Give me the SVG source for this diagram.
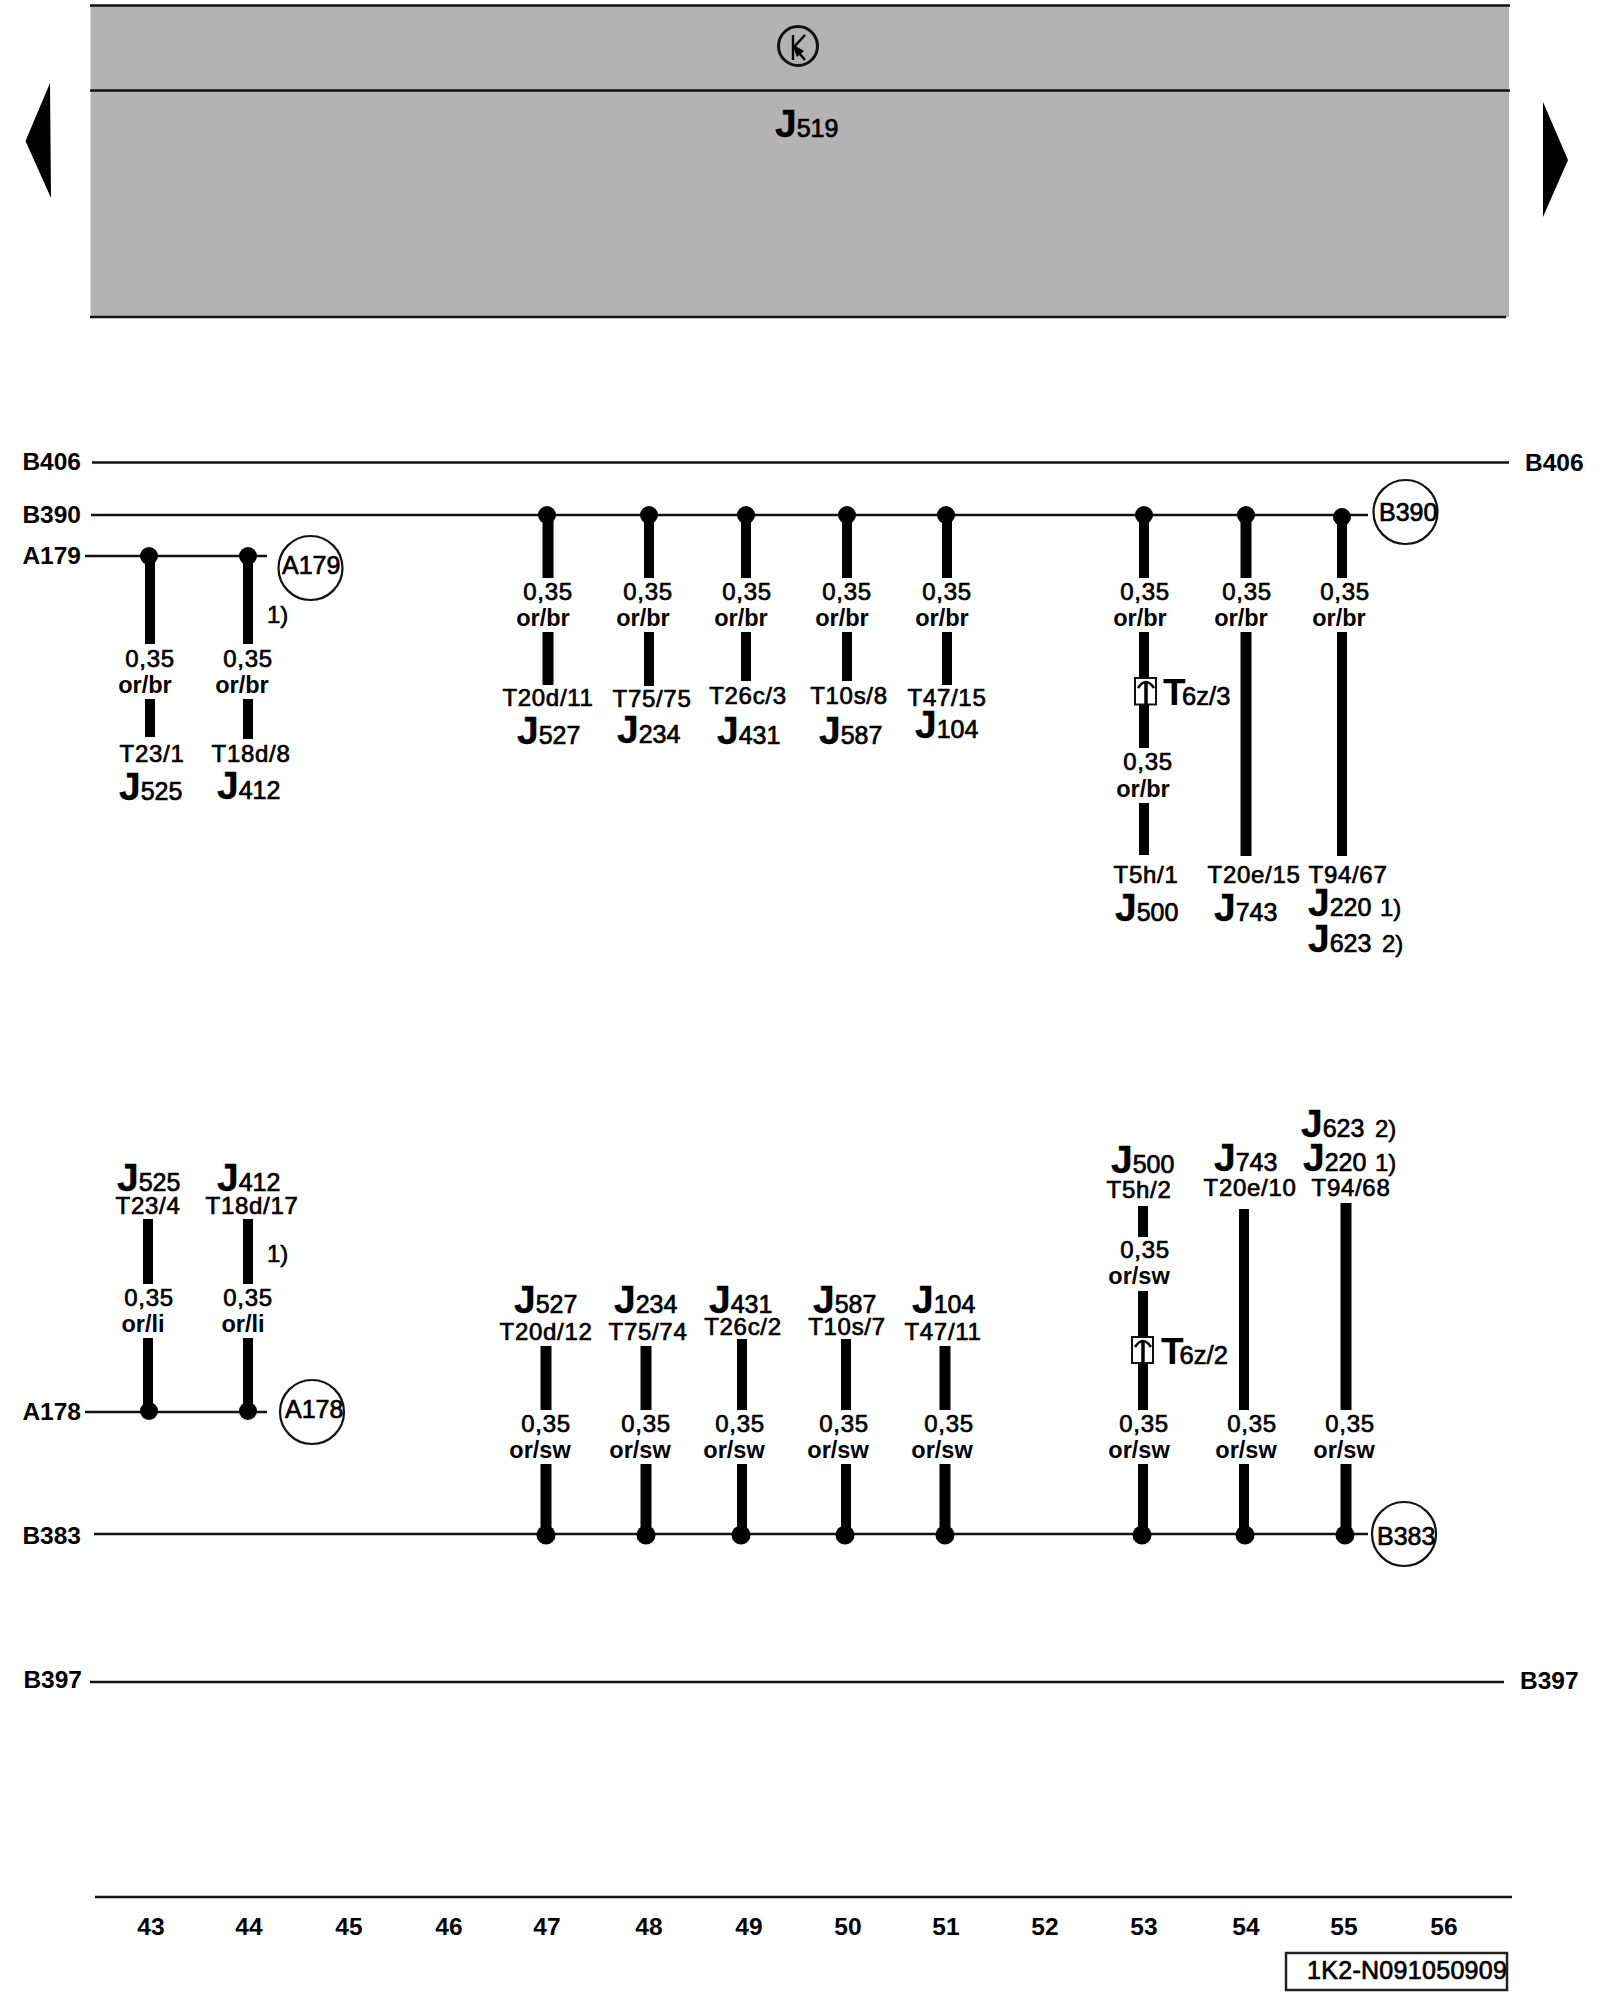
<svg xmlns="http://www.w3.org/2000/svg" width="1600" height="2000" viewBox="0 0 1600 2000">
<style>
text{font-family:"Liberation Sans",Arial,sans-serif;fill:#000}
.l{font-size:24px;letter-spacing:.7px;stroke:#000;stroke-width:.7px;text-anchor:middle}
.o{font-size:23.500px;font-weight:bold;text-anchor:middle}
.n{font-size:24.500px;font-weight:bold}
.e{text-anchor:end}
.m{text-anchor:middle}
.c{font-size:25px;stroke:#000;stroke-width:.7px}
.f{font-size:24px;stroke:#000;stroke-width:.6px}
.j{font-size:25px;stroke:#000;stroke-width:.7px}
.j tspan{font-size:39px;font-weight:bold;stroke-width:.3px}
.t{font-size:25.500px;stroke:#000;stroke-width:.7px}
.t tspan.b{font-size:37px;font-weight:bold;stroke:none}
.bus{stroke:#111;stroke-width:2.5;fill:none}
.w{stroke:#000;stroke-width:10;fill:none}
.w11{stroke:#000;stroke-width:11;fill:none}
.d{fill:#000}
.ring{fill:none;stroke:#111;stroke-width:2.2}
.box{fill:#fff;stroke:#111;stroke-width:2}
</style>
<defs>
<g id="arch"><path d="M-8 9Q0 -3 8 9" fill="none" stroke="#000" stroke-width="2.6"/><path d="M0 4V26" stroke="#000" stroke-width="3.500"/></g>
</defs>

<g id="control-unit-band">
<rect x="90.500" y="5" width="1418.500" height="312" fill="#b3b3b3"/>
<path class="bus" d="M90 5.500H1510M90 90.500H1510M90 317H1506"/>
</g>
<g id="terminal-symbol">
<circle cx="798" cy="46" r="19.500" fill="none" stroke="#111" stroke-width="3"/>
<path d="M793 35V60M805 35L794 47L805 60" fill="none" stroke="#000" stroke-width="2.400"/>
<path d="M792 44L804 51L797 57Z" fill="#000"/>
</g>
<g id="J519"><text class="j" x="775" y="137"><tspan>J</tspan>519</text></g>
<g id="page-prev"><polygon class="d" points="25.500,141 50,83 51,198"/></g>
<g id="page-next"><polygon class="d" points="1543,102 1568,160 1543,217"/></g>

<g id="connectors">
<path class="bus" d="M92 462.500H1509"/>
<path class="bus" d="M91 515H1368"/>
<path class="bus" d="M85 556H267"/>
<path class="bus" d="M85 1412H267"/>
<path class="bus" d="M94 1534H1368"/>
<path class="bus" d="M90 1682H1504"/>
<path class="bus" d="M95 1897H1512"/>
<path class="w" d="M150 556V644M150 699V737"/>
<path class="w" d="M248 556V644M248 699V739"/>
<path class="w11" d="M548 515V578M548 632V685"/>
<path class="w" d="M649 515V578M649 632V686"/>
<path class="w" d="M746 515V578M746 632V681"/>
<path class="w" d="M847 515V578M847 632V681"/>
<path class="w" d="M947 515V578M947 632V685"/>
<path class="w" d="M1144 515V578M1144 632V748M1144 803V855"/>
<path class="w11" d="M1246 515V578M1246 632V856"/>
<path class="w" d="M1342 515V578M1342 632V856"/>
<path class="w" d="M148 1219V1284M148 1338V1412"/>
<path class="w" d="M248 1219V1284M248 1338V1412"/>
<path class="w11" d="M546 1346V1410M546 1464V1535"/>
<path class="w11" d="M646 1346V1410M646 1464V1535"/>
<path class="w" d="M742 1339V1410M742 1464V1535"/>
<path class="w" d="M846 1339V1410M846 1464V1535"/>
<path class="w11" d="M945 1346V1410M945 1464V1535"/>
<path class="w" d="M1143 1206V1237M1143 1291V1410M1143 1464V1534"/>
<path class="w" d="M1244 1209V1410M1244 1464V1534"/>
<path class="w11" d="M1346 1203V1410M1346 1464V1534"/>
<g class="d">
<circle cx="149" cy="556" r="9"/><circle cx="248" cy="556" r="9"/>
<circle cx="547" cy="515" r="9"/><circle cx="649" cy="515" r="9"/><circle cx="746" cy="515" r="9"/><circle cx="847" cy="515" r="9"/><circle cx="946" cy="515" r="9"/><circle cx="1144" cy="515" r="9"/><circle cx="1246" cy="515" r="9"/><circle cx="1342" cy="517" r="9"/>
<circle cx="149" cy="1411" r="9"/><circle cx="248" cy="1411" r="9"/>
<circle cx="546" cy="1535" r="9.500"/><circle cx="646" cy="1535" r="9.500"/><circle cx="741" cy="1535" r="9.500"/><circle cx="845" cy="1535" r="9.500"/><circle cx="945" cy="1535" r="9.500"/><circle cx="1142" cy="1535" r="9.500"/><circle cx="1245" cy="1535" r="9.500"/><circle cx="1345" cy="1535" r="9.500"/>
</g>
</g>

<g id="bus-labels">
<text class="n e" x="81" y="469.500">B406</text>
<text class="n" x="1525" y="471">B406</text>
<text class="n e" x="81" y="522.500">B390</text>
<text class="n e" x="81" y="564">A179</text>
<text class="n e" x="81" y="1419.500">A178</text>
<text class="n e" x="81" y="1543.500">B383</text>
<text class="n e" x="82" y="1688">B397</text>
<text class="n" x="1520" y="1689">B397</text>
</g>
<g id="ref-A179"><circle class="ring" cx="310.500" cy="568" r="32"/><text class="c" x="282" y="574">A179</text></g>
<g id="ref-B390"><circle class="ring" cx="1405.500" cy="512" r="32"/><text class="c" x="1379" y="521">B390</text></g>
<g id="ref-A178"><circle class="ring" cx="312" cy="1412" r="32"/><text class="c" x="285" y="1418">A178</text></g>
<g id="ref-B383"><circle class="ring" cx="1404" cy="1534" r="32"/><text class="c" x="1377" y="1545">B383</text></g>

<g id="wire-labels-upper">
<text class="l" x="150" y="667">0,35</text><text class="o" x="145" y="692.500">or/br</text>
<text class="l" x="248" y="667">0,35</text><text class="o" x="242" y="692.500">or/br</text>
<text class="l" x="548" y="600">0,35</text><text class="o" x="543" y="626">or/br</text>
<text class="l" x="648" y="600">0,35</text><text class="o" x="643" y="626">or/br</text>
<text class="l" x="747" y="600">0,35</text><text class="o" x="741" y="626">or/br</text>
<text class="l" x="847" y="600">0,35</text><text class="o" x="842" y="626">or/br</text>
<text class="l" x="947" y="600">0,35</text><text class="o" x="942" y="626">or/br</text>
<text class="l" x="1145" y="600">0,35</text><text class="o" x="1140" y="626">or/br</text>
<text class="l" x="1148" y="770">0,35</text><text class="o" x="1143" y="797">or/br</text>
<text class="l" x="1247" y="600">0,35</text><text class="o" x="1241" y="626">or/br</text>
<text class="l" x="1345" y="600">0,35</text><text class="o" x="1339" y="626">or/br</text>
<text class="f" x="267" y="623">1)</text>
</g>
<g id="wire-labels-lower">
<text class="l" x="149" y="1306">0,35</text><text class="o" x="143" y="1332">or/li</text>
<text class="l" x="248" y="1306">0,35</text><text class="o" x="243" y="1332">or/li</text>
<text class="f" x="267" y="1262">1)</text>
<text class="l" x="546" y="1432">0,35</text><text class="o" x="540" y="1458">or/sw</text>
<text class="l" x="646" y="1432">0,35</text><text class="o" x="640" y="1458">or/sw</text>
<text class="l" x="740" y="1432">0,35</text><text class="o" x="734" y="1458">or/sw</text>
<text class="l" x="844" y="1432">0,35</text><text class="o" x="838" y="1458">or/sw</text>
<text class="l" x="949" y="1432">0,35</text><text class="o" x="942" y="1458">or/sw</text>
<text class="l" x="1145" y="1258">0,35</text><text class="o" x="1139" y="1284">or/sw</text>
<text class="l" x="1144" y="1432">0,35</text><text class="o" x="1139" y="1458">or/sw</text>
<text class="l" x="1252" y="1432">0,35</text><text class="o" x="1246" y="1458">or/sw</text>
<text class="l" x="1350" y="1432">0,35</text><text class="o" x="1344" y="1458">or/sw</text>
</g>

<g id="T6z-3"><rect class="box" x="1135" y="678" width="21" height="26.500"/><use href="#arch" x="1146" y="679"/><text class="t" x="1163" y="705"><tspan class="b">T</tspan><tspan dx="-3.500">6z/3</tspan></text></g>
<g id="T6z-2"><rect class="box" x="1132" y="1337" width="21" height="26"/><use href="#arch" x="1143" y="1338"/><text class="t" x="1161" y="1364"><tspan class="b">T</tspan><tspan dx="-4">6z/2</tspan></text></g>

<g id="upper-J525"><text class="l" x="152" y="762">T23/1</text><text class="j" x="119" y="800"><tspan>J</tspan>525</text></g>
<g id="upper-J412"><text class="l" x="251" y="762">T18d/8</text><text class="j" x="217" y="799"><tspan>J</tspan>412</text></g>
<g id="upper-J527"><text class="l" x="548" y="706">T20d/11</text><text class="j" x="517" y="744"><tspan>J</tspan>527</text></g>
<g id="upper-J234"><text class="l" x="652" y="707">T75/75</text><text class="j" x="617" y="743"><tspan>J</tspan>234</text></g>
<g id="upper-J431"><text class="l" x="748" y="704">T26c/3</text><text class="j" x="717" y="744"><tspan>J</tspan>431</text></g>
<g id="upper-J587"><text class="l" x="849" y="704">T10s/8</text><text class="j" x="819" y="744"><tspan>J</tspan>587</text></g>
<g id="upper-J104"><text class="l" x="947" y="706">T47/15</text><text class="j" x="915" y="738"><tspan>J</tspan>104</text></g>
<g id="upper-J500"><text class="l" x="1146" y="882.500">T5h/1</text><text class="j" x="1115" y="921"><tspan>J</tspan>500</text></g>
<g id="upper-J743"><text class="l" x="1254" y="882.500">T20e/15</text><text class="j" x="1214" y="921"><tspan>J</tspan>743</text></g>
<g id="upper-J220-J623"><text class="l" x="1348" y="882.500">T94/67</text><text class="j" x="1308" y="916"><tspan>J</tspan>220</text><text class="f" x="1380" y="916">1)</text><text class="j" x="1308" y="952"><tspan>J</tspan>623</text><text class="f" x="1382" y="952">2)</text></g>

<g id="lower-J525"><text class="j" x="117" y="1191"><tspan>J</tspan>525</text><text class="l" x="148" y="1214">T23/4</text></g>
<g id="lower-J412"><text class="j" x="217" y="1191"><tspan>J</tspan>412</text><text class="l" x="252" y="1214">T18d/17</text></g>
<g id="lower-J527"><text class="j" x="514" y="1313"><tspan>J</tspan>527</text><text class="l" x="546" y="1340">T20d/12</text></g>
<g id="lower-J234"><text class="j" x="614" y="1313"><tspan>J</tspan>234</text><text class="l" x="648" y="1340">T75/74</text></g>
<g id="lower-J431"><text class="j" x="709" y="1313"><tspan>J</tspan>431</text><text class="l" x="743" y="1335">T26c/2</text></g>
<g id="lower-J587"><text class="j" x="813" y="1313"><tspan>J</tspan>587</text><text class="l" x="847" y="1335">T10s/7</text></g>
<g id="lower-J104"><text class="j" x="912" y="1313"><tspan>J</tspan>104</text><text class="l" x="943" y="1340">T47/11</text></g>
<g id="lower-J500"><text class="j" x="1111" y="1173"><tspan>J</tspan>500</text><text class="l" x="1139" y="1198">T5h/2</text></g>
<g id="lower-J743"><text class="j" x="1214" y="1171"><tspan>J</tspan>743</text><text class="l" x="1250" y="1196">T20e/10</text></g>
<g id="lower-J220-J623"><text class="j" x="1301" y="1137"><tspan>J</tspan>623</text><text class="f" x="1375" y="1137">2)</text><text class="j" x="1303" y="1171"><tspan>J</tspan>220</text><text class="f" x="1375" y="1171">1)</text><text class="l" x="1351" y="1196">T94/68</text></g>

<g id="track-numbers" class="n m">
<text x="151" y="1935">43</text><text x="249" y="1935">44</text><text x="349" y="1935">45</text><text x="449" y="1935">46</text><text x="547" y="1935">47</text><text x="649" y="1935">48</text><text x="749" y="1935">49</text><text x="848" y="1935">50</text><text x="946" y="1935">51</text><text x="1045" y="1935">52</text><text x="1144" y="1935">53</text><text x="1246" y="1935">54</text><text x="1344" y="1935">55</text><text x="1444" y="1935">56</text>
</g>
<g id="doc-number"><rect x="1286" y="1953" width="221" height="37" fill="none" stroke="#222" stroke-width="2.500"/><text class="c" x="1307" y="1979" style="letter-spacing:.3px">1K2-N091050909</text></g>
</svg>
